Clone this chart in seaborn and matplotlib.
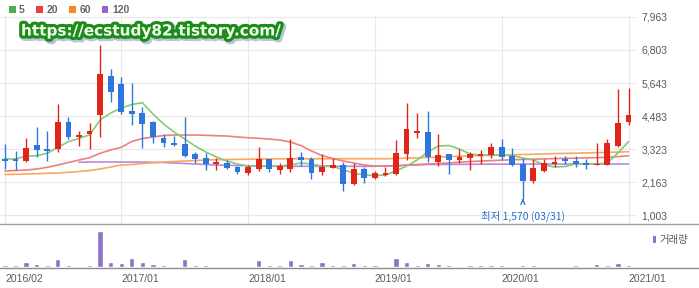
import numpy as np
import pandas as pd
import matplotlib
matplotlib.use("Agg")
import matplotlib.pyplot as plt
import matplotlib.patheffects as pe
from matplotlib.lines import Line2D
from matplotlib.patches import Patch
from matplotlib.ticker import FuncFormatter
import seaborn as sns

# ---------------- data ----------------
months = pd.date_range("2016-02-01", periods=60, freq="MS").strftime("%Y/%m").tolist()

open_ = [2980, 2980, 2901, 3474, 3312, 3312, 4282, 3755, 3850, 4518,
         5889, 5618, 4669, 4578, 4282, 3710, 3523, 3488, 3137, 2996,
         2796, 2841, 2680, 2490, 2620, 2961, 2585, 2620, 3031, 2961,
         2525, 2666, 2761, 2093, 2609, 2293, 2409, 2444, 3147, 3896,
         3931, 2876, 3137, 2936, 3017, 3077, 3112, 3383, 3087, 2796,
         2209, 2550, 2785, 2961, 2912, 2820, 2761, 2761, 3428, 4282]
high = [3500, 3263, 3710, 4107, 3956, 4905, 4458, 3966, 4226, 6979,
        6135, 5854, 5653, 4810, 4290, 3850, 3780, 4437, 3228, 3172,
        2996, 2936, 2725, 2761, 3383, 2961, 2820, 3664, 3207, 3052,
        3137, 3017, 2876, 2820, 2701, 2550, 2701, 3639, 4929, 4578,
        4669, 3850, 3137, 3312, 3228, 3288, 3523, 3664, 3348, 3017,
        2971, 2961, 3077, 3087, 3077, 2961, 3523, 3674, 5421, 5457]
low = [2620, 2585, 2866, 3042, 2901, 3228, 3674, 3428, 3312, 3745,
       4964, 4553, 4167, 3369, 3523, 3383, 3428, 3052, 2820, 2585,
       2585, 2609, 2444, 2409, 2550, 2525, 2444, 2525, 2725, 2258,
       2409, 2645, 1857, 2058, 2138, 2258, 2374, 2409, 2936, 3699,
       2876, 2725, 2444, 2820, 2585, 2796, 2996, 2936, 2725, 1570,
       2117, 2525, 2680, 2785, 2701, 2609, 2761, 2761, 3404, 4167]
close = [2910, 2910, 3369, 3288, 3253, 4282, 3755, 3826, 3945, 5959,
         5316, 4634, 4553, 4202, 3734, 3523, 3464, 3077, 2971, 2796,
         2855, 2645, 2525, 2701, 2971, 2609, 2725, 3017, 2936, 2469,
         2701, 2761, 2093, 2609, 2293, 2469, 2469, 3193, 4015, 3966,
         3052, 3112, 2936, 3052, 3137, 3137, 3404, 3052, 2761, 2209,
         2645, 2820, 2876, 2912, 2796, 2771, 2796, 3523, 4247, 4518]

ma5 = [2971, 2971, 3077, 3087, 3172, 3383, 3580, 3699, 3815, 4342,
       4588, 4764, 4887, 4950, 4553, 4202, 3920, 3674, 3428, 3217,
       3042, 2901, 2796, 2725, 2725, 2725, 2725, 2761, 2831, 2796,
       2725, 2725, 2585, 2479, 2409, 2391, 2409, 2550, 2725, 2936,
       3217, 3428, 3446, 3323, 3147, 3112, 3112, 3112, 3094, 3007,
       2936, 2761, 2690, 2708, 2796, 2813, 2796, 2831, 3182, 3580]
ma20 = [2550, 2567, 2585, 2620, 2680, 2761, 2848, 2936, 3017, 3172,
        3288, 3383, 3587, 3692, 3745, 3797, 3815, 3815, 3815, 3804,
        3790, 3780, 3745, 3720, 3699, 3674, 3639, 3569, 3446, 3253,
        3094, 2989, 2901, 2831, 2761, 2725, 2725, 2725, 2761, 2778,
        2796, 2813, 2831, 2860, 2880, 2900, 2915, 2930, 2945, 2955,
        2965, 2975, 2985, 2995, 3000, 3010, 3020, 3035, 3055, 3087]
ma60 = [2427, 2434, 2444, 2455, 2469, 2479, 2504, 2532, 2567, 2620,
        2690, 2761, 2778, 2813, 2841, 2866, 2884, 2901, 2919, 2936,
        2947, 2954, 2961, 2964, 2971, 2975, 2978, 2980, 2980, 2980,
        2980, 2980, 2980, 2980, 2980, 2980, 2980, 2990, 3000, 3010,
        3025, 3040, 3055, 3070, 3080, 3090, 3100, 3110, 3120, 3130,
        3140, 3150, 3160, 3170, 3175, 3185, 3195, 3205, 3215, 3228]
ma120 = [np.nan] * 7 + [
    2855, 2866, 2866, 2866, 2866, 2866, 2866, 2855, 2848, 2831,
    2813, 2796, 2778, 2761, 2750, 2743, 2732, 2715, 2715, 2715,
    2715, 2715, 2715, 2715, 2715, 2715, 2715, 2715, 2715, 2725,
    2736, 2750, 2761, 2778, 2780, 2782, 2784, 2786, 2788, 2790,
    2790, 2792, 2792, 2794, 2794, 2795, 2795, 2796, 2796, 2796,
    2796, 2796, 2796]

volume = [200, 200, 470, 300, 200, 800, 200, 20, 200, 3650,
          470, 400, 900, 540, 300, 200, 20, 800, 200, 200,
          20, 20, 20, 20, 700, 200, 200, 700, 300, 200,
          540, 200, 200, 370, 240, 200, 20, 900, 540, 200,
          400, 300, 200, 20, 200, 200, 200, 200, 20, 200,
          200, 20, 20, 20, 200, 20, 300, 200, 400, 200]

price_ticks = [1003, 2163, 3323, 4483, 5643, 6803, 7963]
date_ticks = ["2016/02", "2017/01", "2018/01", "2019/01", "2020/01", "2021/01"]
ma_labels = ["5", "20", "60", "120"]
low_label = "최저 1,570 (03/31)"
low_month = "2020/03"
low_value = 1570
watermark = "https://ecstudy82.tistory.com/"
volume_label = "거래량"

# ---------------- style ----------------
sns.set_style("white")
plt.rcParams["font.family"] = ["Liberation Sans", "DejaVu Sans"]

UP = "#e0251b"
DOWN = "#2f76dc"
MA_COLORS = {"5": "#86c97a", "20": "#ef7f7f", "60": "#f6a95c", "120": "#b68ae0"}
LEG_COLORS = ["#4cae4c", "#e8403a", "#f5891e", "#9b5fd0"]
VOL = "#8d72c6"
GRID = "#e8e8e8"
TXT = "#5a5a5a"

W, H = 699, 288
fig = plt.figure(figsize=(W / 100, H / 100), dpi=100)

def frac_x(px):
    return px / W

def frac_y(py):
    return 1 - py / H

ax_right = 636
ax = fig.add_axes([0, frac_y(224), frac_x(ax_right), (224 - 16) / H])
axv = fig.add_axes([0, frac_y(267), frac_x(ax_right), (267 - 228) / H])

x = np.arange(len(months))
tick_idx = [months.index(t) for t in date_ticks]
step = (628.5 - 5) / 59.0
xlim = (-5 / step, 59 + (ax_right - 628.5) / step)

# ---- moving averages (seaborn) ----
ma_df = pd.DataFrame({"idx": x, "5": ma5, "20": ma20, "60": ma60, "120": ma120})
ma_long = ma_df.melt(id_vars="idx", var_name="ma", value_name="price").dropna()
sns.lineplot(data=ma_long, x="idx", y="price", hue="ma",
             hue_order=["120", "60", "20", "5"], palette=MA_COLORS,
             legend=False, ax=ax, linewidth=1.2, zorder=2)

# ---- candles ----
o = np.array(open_, float)
c = np.array(close, float)
colors = np.where(c >= o, UP, DOWN)
ax.vlines(x, low, high, colors=colors, linewidth=1.0, zorder=3)
body_bottom = np.minimum(o, c)
body_h = np.maximum(np.abs(c - o), 50)
ax.bar(x, body_h, bottom=body_bottom, width=0.55, color=colors,
       linewidth=0, zorder=4)

ax.set_xlim(*xlim)
ax.set_ylim(687, 7998)
ax.set_xticks(tick_idx)
ax.set_xticklabels([])
ax.set_yticks(price_ticks)
ax.yaxis.tick_right()
ax.yaxis.set_major_formatter(FuncFormatter(lambda v, p: f"{v:,.0f}"))
ax.tick_params(axis="y", length=0, pad=4, labelsize=7.5, labelcolor=TXT)
ax.tick_params(axis="x", length=0)
ax.grid(True, color=GRID, linewidth=0.8)
ax.set_axisbelow(True)
for s in ax.spines.values():
    s.set_visible(False)
ax.set_xlabel("")
ax.set_ylabel("")

# lowest point annotation
li = months.index(low_month)
ax.annotate(low_label, xy=(li, low_value), xytext=(li, 968),
            ha="center", va="center", color="#2a6cc8", fontsize=7.5,
            family=["Noto Sans CJK KR", "DejaVu Sans"],
            arrowprops=dict(arrowstyle="->", color="#2a6cc8", lw=0.9,
                            shrinkA=5, shrinkB=1), zorder=5)

# ---- volume (seaborn) ----
vol_df = pd.DataFrame({"month": months, "volume": volume})
sns.barplot(data=vol_df, x="month", y="volume", color=VOL, saturation=1,
            width=0.5, errorbar=None, ax=axv)
axv.set_xlim(*xlim)
axv.set_ylim(0, max(volume) * 39 / 36)
axv.set_xticks(tick_idx)
axv.set_xticklabels(date_ticks, ha="left")
axv.set_yticks([])
axv.tick_params(axis="x", length=3, width=0.8, color="#888888", pad=2,
                labelsize=7.5, labelcolor=TXT)
for s in axv.spines.values():
    s.set_visible(False)
axv.set_xlabel("")
axv.set_ylabel("")

# separators spanning full width
fig.add_artist(Line2D([0, 1], [frac_y(224), frac_y(224)], transform=fig.transFigure,
                      color="#a0a0a0", lw=1.0))
fig.add_artist(Line2D([0, 1], [frac_y(267.5), frac_y(267.5)], transform=fig.transFigure,
                      color="#8c8c8c", lw=1.0))

# ---- legends ----
handles = [Patch(facecolor=col, edgecolor="none", label=l)
           for col, l in zip(LEG_COLORS, ma_labels)]
fig.legend(handles=handles, loc="upper left", bbox_to_anchor=(frac_x(2), frac_y(-2)),
           ncol=4, frameon=False, handlelength=0.6, handleheight=0.6,
           handletextpad=0.35, columnspacing=1.1, borderpad=0.2,
           prop=dict(size=7.5, weight="bold"), labelcolor="#666666")

fig.legend(handles=[Patch(facecolor=VOL, edgecolor="none", label=volume_label)],
           loc="upper left", bbox_to_anchor=(frac_x(646), frac_y(228)),
           frameon=False, handlelength=0.3, handleheight=0.7, handletextpad=0.3,
           borderpad=0.2, prop=dict(size=7.5, family=["Noto Sans CJK KR", "DejaVu Sans"]),
           labelcolor=TXT)

# ---- watermark ----
fig.text(frac_x(21), frac_y(31), watermark, ha="left", va="center",
         fontsize=11, fontweight="bold", color="#f2ffe8", family="DejaVu Sans",
         path_effects=[pe.Stroke(linewidth=5, foreground="#b8c6dc", offset=(1.5, -1.5)),
                       pe.Stroke(linewidth=4.5, foreground="#1c8c1c"),
                       pe.Normal()], zorder=10)

fig.savefig("out.png", dpi=100)
